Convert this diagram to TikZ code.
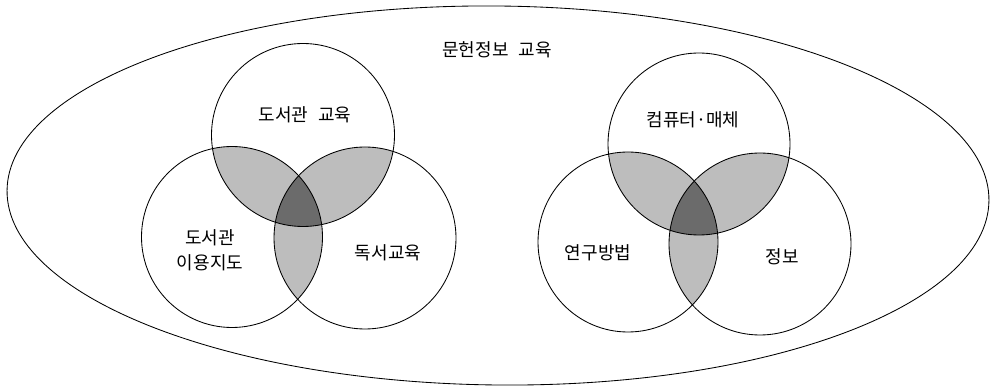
\documentclass[tikz,border=0pt]{standalone}
\usepackage{fontspec}
\newfontfamily\kr{Noto Sans CJK KR}
\begin{document}
\begin{tikzpicture}[x=1pt,y=-1pt,
  outline/.style={draw=black,line width=0.85pt},
  lightfill/.style={fill=black!26},
  darkfill/.style={fill=black!58},
  lbl/.style={font=\kr\fontsize{18}{25}\selectfont,inner sep=0pt,align=center}]
\useasboundingbox (0,0) rectangle (991,387);
\fill[white] (0,0) rectangle (991,387);
% centres
\coordinate (E0) at (498,195.5);
\coordinate (A) at (303,135);
\coordinate (B) at (232,237);
\coordinate (C) at (365,238);
\coordinate (D) at (699,144);
\coordinate (F) at (628,242);
\coordinate (G) at (760,244);
\def\ra{91.5}\def\rb{90.5}\def\rc{91}
\def\rd{91}\def\rf{90}\def\rg{91}
% pairwise overlaps, left
\begin{scope}\clip (A) circle[radius=\ra]; \fill[lightfill] (B) circle[radius=\rb]; \fill[lightfill] (C) circle[radius=\rc];\end{scope}
\begin{scope}\clip (B) circle[radius=\rb]; \fill[lightfill] (C) circle[radius=\rc];\end{scope}
\begin{scope}\clip (A) circle[radius=\ra]; \clip (B) circle[radius=\rb]; \fill[darkfill] (C) circle[radius=\rc];\end{scope}
% pairwise overlaps, right
\begin{scope}\clip (D) circle[radius=\rd]; \fill[lightfill] (F) circle[radius=\rf]; \fill[lightfill] (G) circle[radius=\rg];\end{scope}
\begin{scope}\clip (F) circle[radius=\rf]; \fill[lightfill] (G) circle[radius=\rg];\end{scope}
\begin{scope}\clip (D) circle[radius=\rd]; \clip (F) circle[radius=\rf]; \fill[darkfill] (G) circle[radius=\rg];\end{scope}
% outlines
\draw[outline] (E0) ellipse[x radius=491,y radius=189.5,rotate=-0.6];
\draw[outline] (A) circle[radius=\ra];
\draw[outline] (B) circle[radius=\rb];
\draw[outline] (C) circle[radius=\rc];
\draw[outline] (D) circle[radius=\rd];
\draw[outline] (F) circle[radius=\rf];
\draw[outline] (G) circle[radius=\rg];
% labels
\node[lbl] (title) at (497,50) {문헌정보\hspace{0.55em}교육};
\node[lbl] (la) at (305,115) {도서관\hspace{0.55em}교육};
\node[lbl] (lb) at (210,250) {도서관\\이용지도};
\node[lbl] (lc) at (388,253) {독서교육};
\node[lbl] (ld) at (693,120) {컴퓨터·매체};
\node[lbl] (lf) at (598,253) {연구방법};
\node[lbl] (lg) at (782,257) {정보};
\end{tikzpicture}
\end{document}
